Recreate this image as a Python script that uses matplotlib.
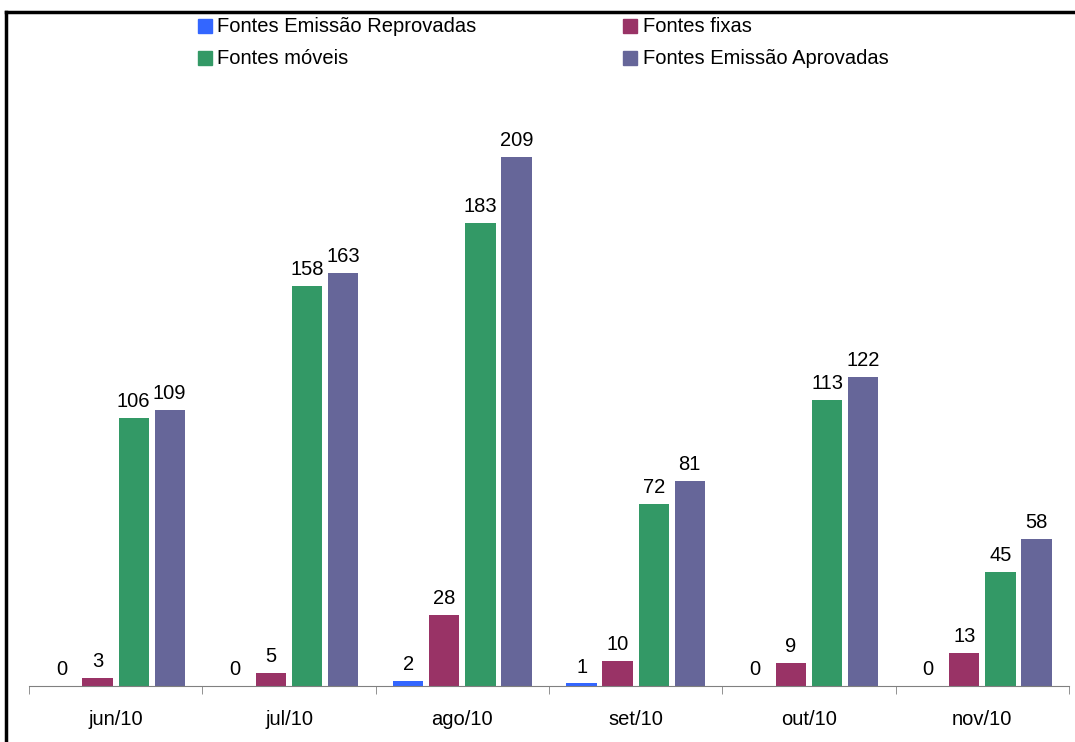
import numpy as np
import matplotlib.pyplot as plt
from matplotlib.patches import Rectangle
from matplotlib.lines import Line2D

plt.rcParams['font.family'] = ['Liberation Sans', 'DejaVu Sans']

meses = ["jun/10", "jul/10", "ago/10", "set/10", "out/10", "nov/10"]
reprovadas = [0, 0, 2, 1, 0, 0]
fixas = [3, 5, 28, 10, 9, 13]
moveis = [106, 158, 183, 72, 113, 45]
aprovadas = [109, 163, 209, 81, 122, 58]

series = [
    ("Fontes Emissão Reprovadas", reprovadas, "#3366FF"),
    ("Fontes fixas", fixas, "#993366"),
    ("Fontes móveis", moveis, "#339966"),
    ("Fontes Emissão Aprovadas", aprovadas, "#666699"),
]

fig = plt.figure(figsize=(10.75, 7.42), dpi=100)
W, H = 1075, 742
# eixo: base em y=686 px, de x=29 a x=1069
ax = fig.add_axes([29 / W, (H - 686) / H, (1069 - 29) / W, 633 / H])

x = np.arange(len(meses))
passo = 0.208
largura = 0.175
for i, (nome, vals, cor) in enumerate(series):
    pos = x + (i - 1.5) * passo
    ax.bar(pos, vals, largura, color=cor, label=nome)
    for p, v in zip(pos, vals):
        ax.annotate(str(v), (p, v), xytext=(0, 5), textcoords="offset points",
                    ha="center", va="bottom", fontsize=14.5)

ax.set_xlim(-0.5, len(meses) - 0.5)
ax.set_ylim(0, 250)
ax.set_xticks(x)
ax.set_xticklabels(meses, fontsize=14.5)
ax.tick_params(axis="x", which="major", length=0, pad=17)
ax.set_xticks(np.arange(len(meses) + 1) - 0.5, minor=True)
ax.tick_params(axis="x", which="minor", length=6, color="#808080")
ax.set_yticks([])
for s in ["left", "right", "top"]:
    ax.spines[s].set_visible(False)
ax.spines["bottom"].set_color("#808080")

# moldura do gráfico (topo e lado esquerdo)
fig.add_artist(Line2D([6 / W, 1.0], [1 - 12 / H, 1 - 12 / H], color="black", lw=2.5))
fig.add_artist(Line2D([6 / W, 6 / W], [0.0, 1 - 12 / H], color="black", lw=2.5))

# legenda em duas colunas
leg_x = [(198, 217), (623, 643)]
leg_y = [26, 58]
ordem = [(0, 0, 0), (2, 0, 1), (1, 1, 0), (3, 1, 1)]
for idx, col, lin in ordem:
    nome, _, cor = series[idx]
    xs, xt = leg_x[col]
    yc = leg_y[lin]
    fig.add_artist(Rectangle((xs / W, 1 - (yc + 7) / H), 14 / W, 14 / H,
                             transform=fig.transFigure, color=cor))
    fig.text(xt / W, 1 - yc / H, nome, fontsize=14.5, va="center", ha="left")

fig.savefig("out.png", dpi=100)
